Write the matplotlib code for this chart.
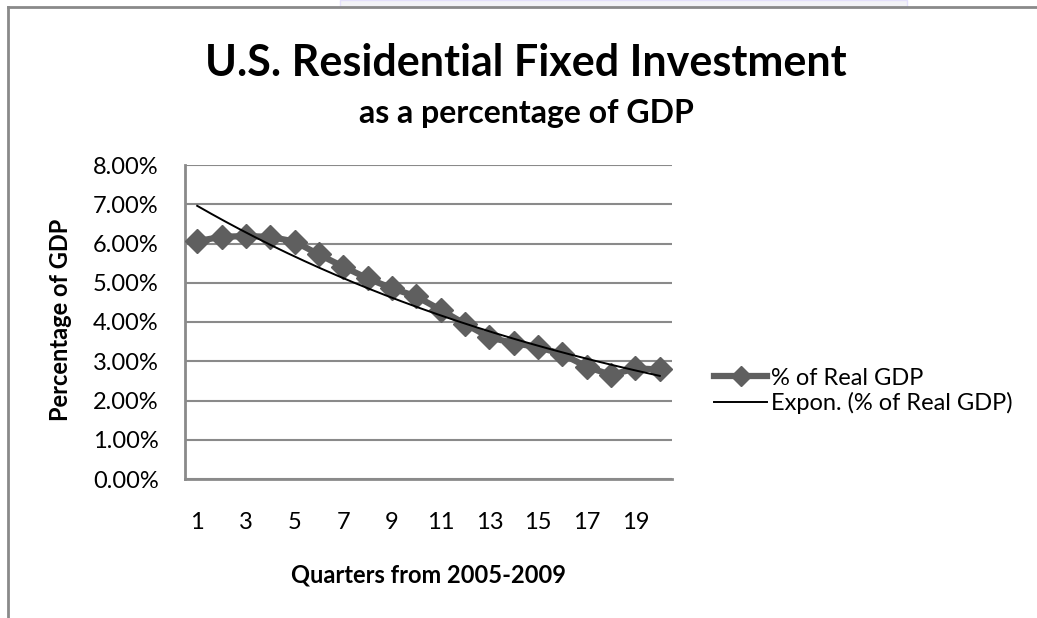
import numpy as np
import matplotlib
matplotlib.use("Agg")
import matplotlib.pyplot as plt
from matplotlib.patches import Rectangle
from matplotlib.lines import Line2D
from matplotlib.ticker import FuncFormatter

# quarters 1..20 (2005-2009), residential investment as share of real GDP
quarters = np.arange(1, 21)
share = np.array([
    6.06, 6.17, 6.19, 6.17, 6.05, 5.72, 5.41, 5.11, 4.86, 4.65,
    4.31, 3.95, 3.61, 3.46, 3.36, 3.18, 2.86, 2.65, 2.82, 2.79,
]) / 100
yticks = np.arange(0, 0.081, 0.01)
xtick_labels = [str(q) for q in range(1, 21, 2)]

plt.rcParams["font.family"] = ["Lato", "DejaVu Sans"]

W, H = 1037, 618
fig = plt.figure(figsize=(W / 100, H / 100), dpi=100)

# outer frame bits (chart sits in a screenshot)
fig.patches.append(Rectangle((340 / W, 1 - 7 / H), (907 - 340) / W, 7 / H,
                             transform=fig.transFigure, facecolor="#f3f3f7",
                             edgecolor="#e4e0fb", lw=1))
fig.add_artist(Line2D([8 / W, 1], [1 - 7 / H, 1 - 7 / H],
                      transform=fig.transFigure, color="#8a8a8a", lw=2))
fig.add_artist(Line2D([8 / W, 8 / W], [0, 1 - 7 / H],
                      transform=fig.transFigure, color="#8a8a8a", lw=2))

ax = fig.add_axes([185 / W, 1 - 479 / H, (672 - 185) / W, (479 - 165) / H])

# exponential trend (Excel style), fitted on the data
b, a = np.polyfit(quarters, np.log(share), 1)
xs = np.linspace(1, 20, 200)
trend = np.exp(a + b * xs)

ax.plot(quarters, share, color="#5f5f5f", lw=4.5, marker="D", ms=12,
        mec="#5f5f5f", mfc="#5f5f5f", zorder=3)
ax.plot(xs, trend, color="black", lw=1.4, zorder=4)

ax.set_xlim(0.5, 20.5)
ax.set_ylim(0, 0.08)
ax.set_yticks(yticks)
ax.yaxis.set_major_formatter(FuncFormatter(lambda v, p: f"{v * 100:.2f}%"))
ax.set_xticks(range(1, 21, 2))
ax.set_xticklabels(xtick_labels)
ax.tick_params(length=0, labelsize=17, colors="black")
ax.tick_params(axis="y", pad=19)
ax.tick_params(axis="x", pad=24)
ax.grid(axis="y", color="#8a8a8a", lw=1.5)
ax.set_axisbelow(True)
for s in ["top", "right"]:
    ax.spines[s].set_visible(False)
for s in ["left", "bottom"]:
    ax.spines[s].set_color("#8a8a8a")
    ax.spines[s].set_linewidth(2)

ax.set_ylabel("Percentage of GDP", fontsize=17, fontweight="bold",
              va="center")
ax.yaxis.set_label_coords((60 - 185) / 487, (479 - 320) / 314)
ax.set_xlabel("Quarters from 2005-2009", fontsize=17, fontweight="bold",
              va="center")
ax.xaxis.set_label_coords(0.5, (479 - 575) / 314)

fig.text(526 / W, 1 - 63 / H, "U.S. Residential Fixed Investment",
         ha="center", va="center", fontsize=31, fontweight="bold")
fig.text(526 / W, 1 - 113 / H, "as a percentage of GDP",
         ha="center", va="center", fontsize=23, fontweight="bold")

handles = [
    Line2D([], [], color="#5f5f5f", lw=4.5, marker="D", ms=10),
    Line2D([], [], color="black", lw=1.4),
]
fig.legend(handles, ["% of Real GDP", "Expon. (% of Real GDP)"],
           loc="center left", bbox_to_anchor=(693 / W, 1 - 391 / H),
           frameon=False, fontsize=17, handlelength=2.25, handletextpad=0.17,
           labelspacing=0.15)

fig.savefig("out.png", dpi=100)
